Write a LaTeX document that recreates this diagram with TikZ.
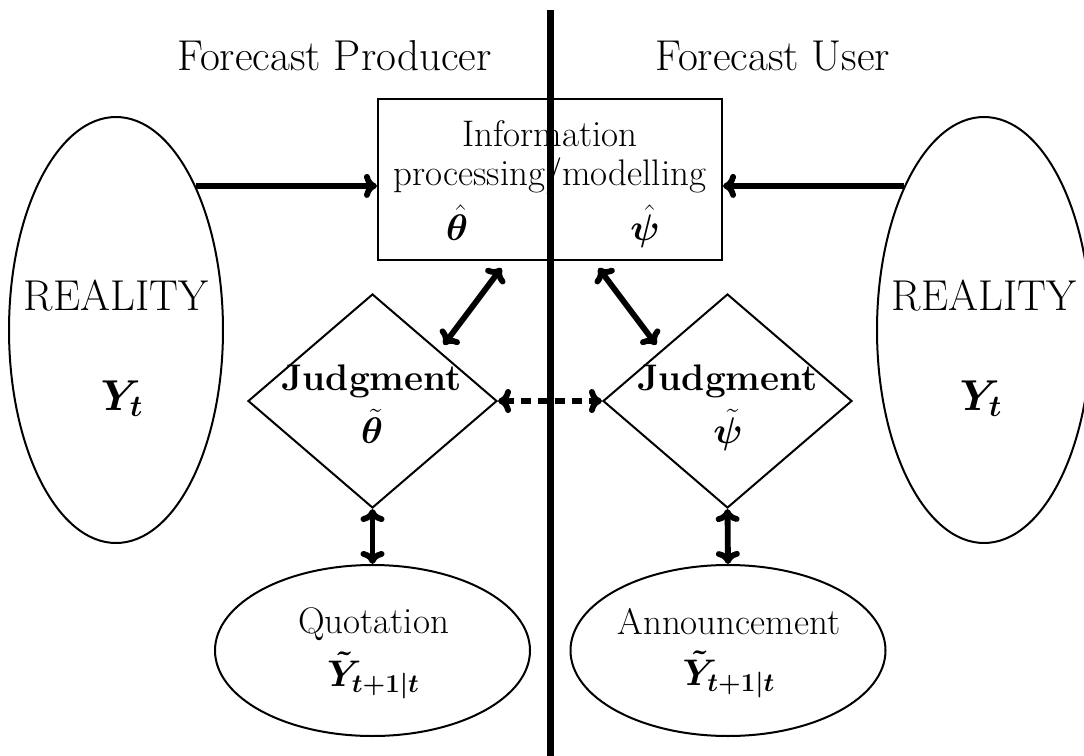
\RequirePackage{fix-cm}
\documentclass[tikz,border=0pt]{standalone}
\usepackage{amsmath,bm}
\usetikzlibrary{shapes.geometric,arrows.meta,calc}
\begin{document}
\begin{tikzpicture}[x=0.5pt,y=-0.5pt,
  shapeline/.style={draw, line width=1pt, inner sep=0pt},
  ell/.style={shapeline, ellipse},
  txt/.style={inner sep=0pt, font=\fontsize{18.5}{22}\selectfont},
  bigtxt/.style={inner sep=0pt, font=\fontsize{21.6}{26}\selectfont},
  cmtip/.style={Computer Modern Rightarrow[length=6.5pt,width=12pt]},
  conn/.style={line width=2.9pt, -{Computer Modern Rightarrow[length=6.5pt,width=12pt]}},
  dconn/.style={line width=2.9pt, {Computer Modern Rightarrow[length=6.5pt,width=12pt]}-{Computer Modern Rightarrow[length=6.5pt,width=12pt]}},
  divider/.style={line width=3.5pt}]
\useasboundingbox (0,0) rectangle (1084,756);

% shapes
\node[ell, minimum width=107pt, minimum height=213pt] (realL) at (116,330) {};
\node[ell, minimum width=107pt, minimum height=213pt] (realR) at (984,330) {};
\node[shapeline, rectangle, minimum width=172pt, minimum height=80.5pt] (box) at (550,179.5) {};
\node[shapeline, diamond, minimum width=124.5pt, minimum height=107pt] (dL) at (372.5,401) {};
\node[shapeline, diamond, minimum width=124.5pt, minimum height=107pt] (dR) at (727.5,401) {};
\node[ell, minimum width=157.5pt, minimum height=85.5pt] (quot) at (372.5,650.5) {};
\node[ell, minimum width=157.5pt, minimum height=85.5pt] (ann) at (728,650.5) {};

% titles
\node[bigtxt, anchor=base west] (tP) at (177,70) {Forecast Producer};
\node[bigtxt, anchor=base west] (tU) at (655,70) {Forecast User};

% texts
\node[bigtxt, anchor=base] (rtL) at (116,310) {REALITY};
\node[bigtxt, anchor=base] (ytL) at (122,410) {$\bm{Y_t}$};
\node[bigtxt, anchor=base] (rtR) at (984,310) {REALITY};
\node[bigtxt, anchor=base] (ytR) at (981,410) {$\bm{Y_t}$};

\node[txt, anchor=base] (inf1) at (550,146) {Information};
\node[txt, anchor=base] (inf2) at (550,185) {processing/modelling};
\node[txt, anchor=base] (thh) at (457,240) {$\hat{\bm{\theta}}$};
\node[txt, anchor=base] (psh) at (645,240) {$\hat{\bm{\psi}}$};

\node[txt, anchor=base] (jL) at (371.5,390) {\bfseries Judgment};
\node[txt, anchor=base] (thL) at (372,443) {$\tilde{\bm{\theta}}$};
\node[txt, anchor=base] (jR) at (727.5,390) {\bfseries Judgment};
\node[txt, anchor=base] (psR) at (728,443) {$\tilde{\bm{\psi}}$};

\node[txt, anchor=base] (qt) at (373.5,633) {Quotation};
\node[txt, anchor=base] (qy) at (373.5,686) {$\bm{\tilde{Y}_{t+1|t}}$};
\node[txt, anchor=base] (at) at (729,634) {Announcement};
\node[txt, anchor=base] (ay) at (729,685) {$\bm{\tilde{Y}_{t+1|t}}$};

% connectors
\draw[conn] (realL.61) -- (realL.61 -| box.west);
\draw[conn] (realR.119) -- (realR.119 -| box.east);
\draw[dconn, shorten <=4.4pt, shorten >=3.6pt] (box.-118) -- (dL.37);
\draw[dconn, shorten <=4.4pt, shorten >=3.6pt] (box.-62) -- (dR.143);
\draw[dconn, dash pattern=on 5pt off 3.5pt] (dL.east) -- (dR.west);
\draw[dconn] (dL.south) -- (quot.north);
\draw[dconn] (dR.south) -- (ann.north);

% divider
\coordinate (divtop) at (550,10);
\coordinate (divbot) at (550,756);
\draw[divider] (divtop) -- (divbot);
\end{tikzpicture}
\end{document}
